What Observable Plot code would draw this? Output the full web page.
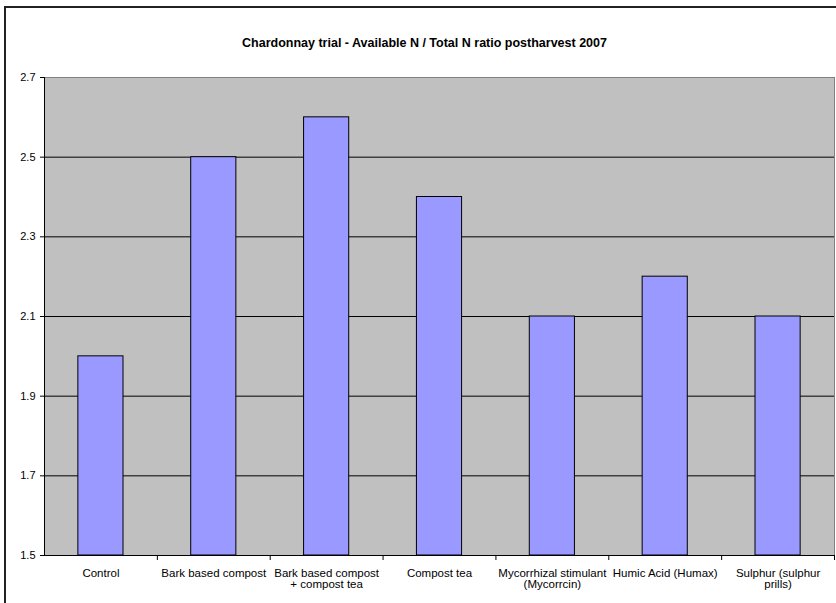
<!DOCTYPE html>
<html>
<head>
<meta charset="utf-8">
<script src="https://cdn.jsdelivr.net/npm/d3@7"></script>
<script src="https://cdn.jsdelivr.net/npm/@observablehq/plot@0.6"></script>
<style>
  html, body { margin: 0; padding: 0; background: #fff; }
  #wrap { position: relative; width: 836px; height: 603px; overflow: hidden; }
  #edge { position: absolute; left: 4px; top: 6px; width: 900px; height: 700px;
          border-left: 2px solid #222; border-top: 2px solid #222; pointer-events: none; }
  #wrap svg { position: absolute; left: 0; top: 0; }
</style>
</head>
<body>
<div id="wrap"><div id="edge"></div></div>
<script>
const title = "Chardonnay trial - Available N / Total N ratio postharvest 2007";

const categories = [
  "Control",
  "Bark based compost",
  "Bark based compost\n+ compost tea",
  "Compost tea",
  "Mycorrhizal stimulant\n(Mycorrcin)",
  "Humic Acid (Humax)",
  "Sulphur (sulphur\nprills)"
];

const ratios = [2.0, 2.5, 2.6, 2.4, 2.1, 2.2, 2.1];

const yTicks = [1.5, 1.7, 1.9, 2.1, 2.3, 2.5, 2.7];
const yDomain = [1.5, 2.7];

const rows = categories.map((c, i) => ({category: c, ratio: ratios[i]}));

const W = 836, H = 603;
const mL = 44, mR = 2, mT = 77, mB = 48;
const step = (W - mL - mR) / categories.length;

const chart = Plot.plot({
  width: W,
  height: H,
  marginLeft: mL,
  marginRight: mR,
  marginTop: mT,
  marginBottom: mB,
  style: {
    fontFamily: "'Liberation Sans', Arial, sans-serif",
    fontSize: "11px",
    background: "transparent",
    color: "#000"
  },
  x: {domain: categories, paddingInner: 0.6, paddingOuter: 0.3, round: false, label: null},
  y: {domain: yDomain, label: null},
  marks: [
    Plot.frame({fill: "#C0C0C0", stroke: "#808080"}),
    Plot.gridY(yTicks.filter(t => t > yDomain[0] && t < yDomain[1]), {stroke: "#000", strokeOpacity: 1}),
    Plot.barY(rows, {x: "category", y1: yDomain[0], y2: "ratio", fill: "#9999FF", stroke: "#000", strokeWidth: 1}),
    Plot.frame({anchor: "left", stroke: "#000"}),
    Plot.frame({anchor: "bottom", stroke: "#000"}),
    Plot.axisY({ticks: yTicks, tickSize: 4, tickPadding: 5, tickFormat: d => d.toFixed(1), label: null, fontSize: 11}),
    Plot.axisX({tickSize: 0, tickPadding: 13, label: null, fontSize: 11.5}),
    Plot.axisX({tickSize: 5, tickFormat: () => "", dx: step / 2, label: null}),
    Plot.text([title], {frameAnchor: "top", dy: -39, dx: -15, fontWeight: "bold", fontSize: 12.5})
  ]
});

document.getElementById("wrap").appendChild(chart);
</script>
</body>
</html>
